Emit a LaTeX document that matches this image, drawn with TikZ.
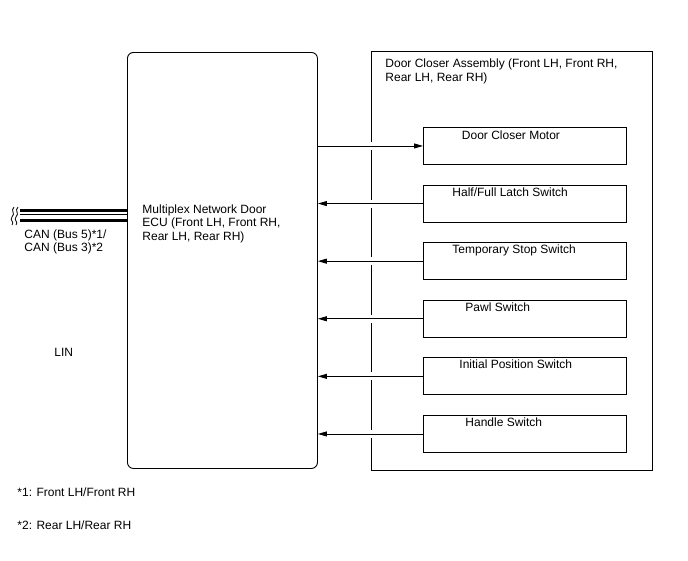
\documentclass[tikz,border=0pt]{standalone}
\usepackage{fontspec}
\setmainfont{Liberation Sans}
\usepackage{tikz}
\usetikzlibrary{arrows.meta, positioning, calc}

\begin{document}
\begin{tikzpicture}[x=1pt, y=-1pt, line width=0.9pt,
    font=\fontsize{12}{13.8}\selectfont,
    txt/.style={inner sep=0pt, anchor=base west, align=left},
    subbox/.style={draw, minimum width=203pt, minimum height=37pt, inner sep=0pt, anchor=north west},
    sig/.style={-{Triangle[length=9pt, width=5pt]}}]
  \useasboundingbox (0,0) rectangle (688,560);

  % ECU and assembly
  \node[draw, rounded corners=6pt, minimum width=190pt, minimum height=416pt,
        inner sep=0pt, anchor=north west] (ecu) at (127,52) {};
  \node[draw, minimum width=281pt, minimum height=419pt,
        inner sep=0pt, anchor=north west] (assy) at (371,51) {};
  \node[txt] (ecutxt) at (142,240.7) {Multiplex Network Door\\ECU (Front LH, Front RH,\\Rear LH, Rear RH)};
  \node[txt] (assytxt) at (385,81.7) {Door Closer Assembly (Front LH, Front RH,\\Rear LH, Rear RH)};

  % parts
  \foreach \n/\y in {motor/127, latch/184.6, tstop/242.2, pawl/299.8, inipos/357.4, handle/415}
    \node[subbox] (\n) at (423,\y) {};
  \node[txt] (motortxt) at ($(motor.north west)+(38.5,12)$) {Door Closer Motor};
  \node[txt] (latchtxt) at ($(latch.north west)+(29,11.5)$) {Half/Full Latch Switch};
  \node[txt] (tstoptxt) at ($(tstop.north west)+(29,11.5)$) {Temporary Stop Switch};
  \node[txt] (pawltxt) at ($(pawl.north west)+(42,11.5)$) {Pawl Switch};
  \node[txt] (inipostxt) at ($(inipos.north west)+(36,11.5)$) {Initial Position Switch};
  \node[txt] (handletxt) at ($(handle.north west)+(42,11.5)$) {Handle Switch};

  % signals
  \foreach \n in {motor, latch, tstop, pawl, inipos, handle}
    \fill[white] ($(assy.west |- \n.west)+(-2,-4)$) rectangle +(4,8);
  \draw[sig] (ecu.east |- motor.west) -- (motor.west);
  \foreach \n in {latch, tstop, pawl, inipos, handle}
    \draw[sig] (\n.west) -- (ecu.east |- \n.west);

  % bus
  \coordinate (busa) at (20,210.5);
  \coordinate (busb) at (20,214.8);
  \coordinate (busc) at (20,220.5);
  \draw[line width=3pt] (busa) -- (busa -| ecu.west);
  \draw[line width=1.2pt] (busb) -- (busb -| ecu.west);
  \draw[line width=3pt] (busc) -- (busc -| ecu.west);
  \draw[line width=0.8pt] (14,207) .. controls (10,211) and (16,213) .. (12,217) .. controls (9,220) and (15,222) .. (12,225);
  \draw[line width=0.8pt] (18,207) .. controls (14,211) and (20,213) .. (16,217) .. controls (13,220) and (19,222) .. (16,225);
  \node[txt] (cantxt) at (24,251.7) {CAN (Bus 5)*1/\\[-1pt]CAN (Bus 3)*2};
  \node[txt] (lintxt) at (54,356) {LIN};

  % notes
  \node[txt] (note1) at (17,496) {*1: Front LH/Front RH};
  \node[txt] (note2) at (17,529.3) {*2: Rear LH/Rear RH};
\end{tikzpicture}
\end{document}
